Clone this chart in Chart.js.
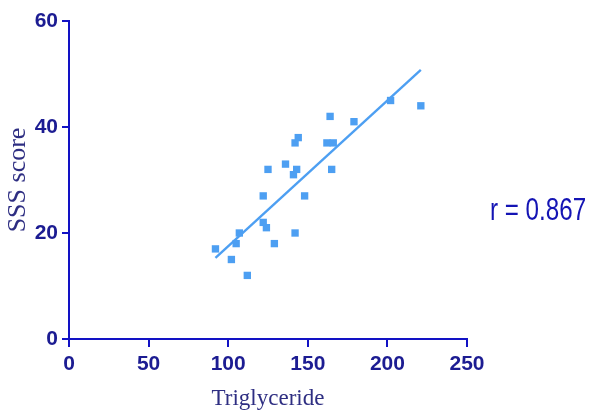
<!DOCTYPE html>
<html>
<head>
<meta charset="utf-8">
<script src="https://cdn.jsdelivr.net/npm/chart.js@4"></script>
<style>
  html, body { margin: 0; padding: 0; background: #fff; }
  #wrap { width: 593px; height: 414px; }
</style>
</head>
<body>
<div id="wrap"><canvas id="scatterChart" width="593" height="414"></canvas></div>
<script>
// triglyceride vs SSS score
const triglyceride = [92, 102, 105, 107, 112, 122, 122, 124, 125, 129, 136, 141,
                      142, 142, 143, 144, 148, 162, 164, 166, 165, 179, 202, 221];
const sssScore     = [17, 15, 18, 20, 12, 22, 27, 21, 32, 18, 33, 31,
                      20, 37, 32, 38, 27, 37, 42, 37, 32, 41, 45, 44];

// fitted line end points
const fitX = [92, 221];
const fitY = [15.3, 50.8];

const xTicks = [0, 50, 100, 150, 200, 250];
const yTicks = [0, 20, 40, 60];
const rLabel = "r = 0.867";

const AXIS = "#1212c4";
const TICK_TEXT = "#1c1c92";
const TITLE_TEXT = "#2e2e82";
const MARK = "#4d9ff2";

const rText = {
    id: "rText",
    afterDraw(chart) {
        const ctx = chart.ctx;
        ctx.save();
        ctx.fillStyle = "#1414b4";
        ctx.font = "31px 'Liberation Sans', Arial, sans-serif";
        ctx.textBaseline = "middle";
        ctx.translate(490, 211);
        ctx.scale(0.78, 1);
        ctx.fillText(rLabel, 0, 0);
        ctx.restore();
    }
};

const points = triglyceride.map((t, i) => ({ x: t, y: sssScore[i] }));
const fitLine = fitX.map((t, i) => ({ x: t, y: fitY[i] }));

new Chart(document.getElementById("scatterChart").getContext("2d"), {
    type: "scatter",
    data: {
        datasets: [{
            data: points,
            pointStyle: "rect",
            pointRadius: 5.2,
            pointBackgroundColor: MARK,
            pointBorderWidth: 0
        }, {
            data: fitLine,
            showLine: true,
            borderColor: MARK,
            borderWidth: 2.4,
            pointRadius: 0
        }]
    },
    plugins: [rText],
    options: {
        responsive: false,
        animation: false,
        layout: { padding: { top: 21, right: 126, left: 0, bottom: 0 } },
        plugins: { legend: { display: false }, tooltip: { enabled: false } },
        scales: {
            x: {
                type: "linear",
                min: 0, max: 250,
                afterFit: s => { s.height = 75; },
                afterBuildTicks: s => { s.ticks = xTicks.map(v => ({ value: v })); },
                grid: { drawOnChartArea: false, drawTicks: true, tickLength: 8, color: AXIS, lineWidth: 2 },
                border: { color: AXIS, width: 2 },
                ticks: {
                    padding: 5,
                    color: TICK_TEXT,
                    font: { family: "'Liberation Sans', Arial", size: 21, weight: "bold" }
                },
                title: {
                    display: true,
                    text: "Triglyceride",
                    color: TITLE_TEXT,
                    padding: { top: 0, bottom: 1 },
                    font: { family: "'Liberation Serif', 'Times New Roman', serif", size: 23 }
                }
            },
            y: {
                type: "linear",
                min: 0, max: 60,
                afterFit: s => { s.width = 69; },
                afterBuildTicks: s => { s.ticks = yTicks.map(v => ({ value: v })); },
                grid: { drawOnChartArea: false, drawTicks: true, tickLength: 7, color: AXIS, lineWidth: 2 },
                border: { color: AXIS, width: 2 },
                ticks: {
                    padding: 4,
                    color: TICK_TEXT,
                    font: { family: "'Liberation Sans', Arial", size: 21, weight: "bold" }
                },
                title: {
                    display: true,
                    text: "SSS score",
                    color: TITLE_TEXT,
                    padding: { top: 3, bottom: 0 },
                    font: { family: "'Liberation Serif', 'Times New Roman', serif", size: 26 }
                }
            }
        }
    }
});
</script>
</body>
</html>
